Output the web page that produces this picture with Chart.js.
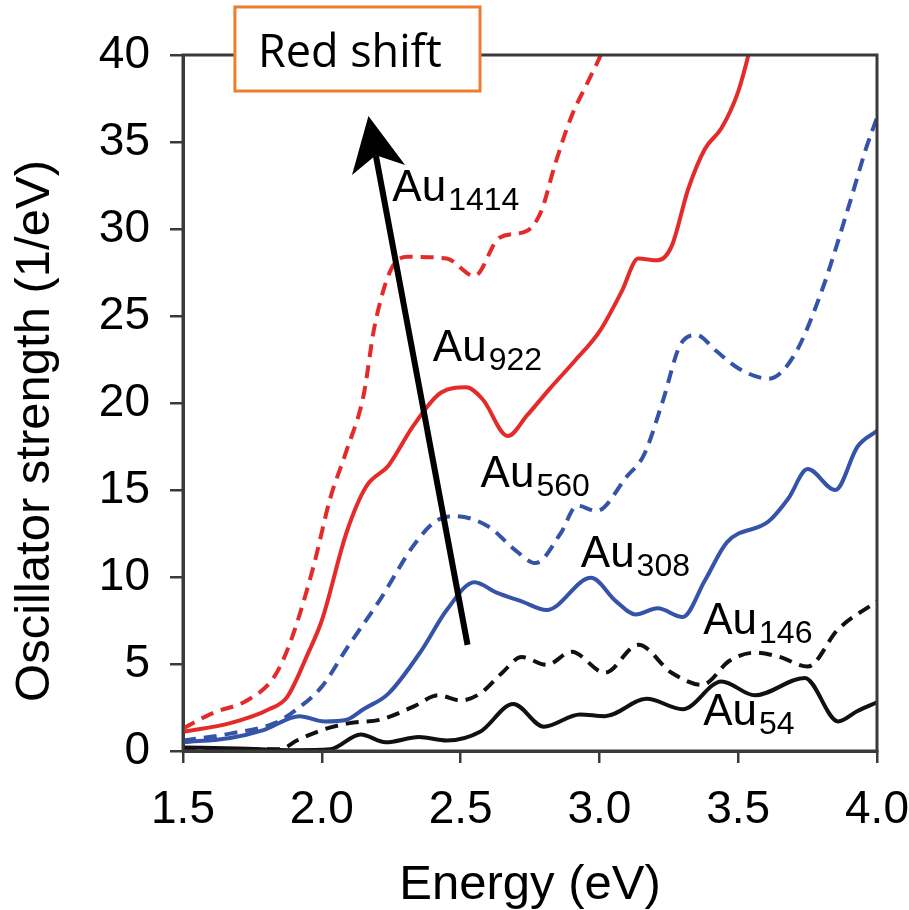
<!DOCTYPE html>
<html>
<head>
<meta charset="utf-8">
<script src="https://cdn.jsdelivr.net/npm/chart.js@4.4.0/dist/chart.umd.min.js"></script>
<style>
  body { margin: 0; background: #fff; }
  canvas { display: block; }
</style>
</head>
<body>
<canvas id="chart" width="909" height="910"></canvas>
<script>
// x = energy (eV), y = oscillator strength (1/eV)
var au54E = [1.50, 1.70, 1.90, 2.03, 2.14, 2.23, 2.35, 2.45, 2.57, 2.69, 2.80, 2.93, 3.02, 3.17, 3.30, 3.44, 3.56, 3.74, 3.86, 3.93, 4.00];
var au54F = [0.2, 0.15, 0.05, 0.1, 0.95, 0.5, 0.8, 0.6, 1.1, 2.7, 1.4, 2.1, 2.0, 3.0, 2.4, 4.0, 3.2, 4.2, 1.7, 2.3, 2.8];

var au146E = [1.50, 1.70, 1.85, 1.91, 2.00, 2.10, 2.21, 2.33, 2.42, 2.50, 2.57, 2.65, 2.72, 2.81, 2.90, 3.02, 3.14, 3.26, 3.37, 3.47, 3.56, 3.65, 3.75, 3.86, 4.00];
var au146F = [0.1, 0.1, 0.1, 0.6, 1.2, 1.6, 1.8, 2.55, 3.2, 2.9, 3.3, 4.5, 5.4, 4.95, 5.7, 4.5, 6.1, 4.5, 3.8, 5.2, 5.65, 5.4, 4.85, 7.0, 8.6];

var au308E = [1.50, 1.67, 1.79, 1.92, 2.01, 2.09, 2.15, 2.24, 2.36, 2.45, 2.55, 2.63, 2.72, 2.81, 2.97, 3.06, 3.13, 3.21, 3.30, 3.38, 3.46, 3.61, 3.68, 3.75, 3.85, 3.93, 4.00];
var au308F = [0.5, 0.75, 1.2, 2.0, 1.7, 1.8, 2.4, 3.3, 5.8, 8.1, 9.7, 9.1, 8.6, 8.1, 9.95, 8.6, 7.85, 8.2, 7.7, 9.8, 12.0, 13.2, 14.5, 16.2, 15.0, 17.5, 18.4];

var au560E = [1.50, 1.67, 1.83, 1.91, 2.00, 2.09, 2.21, 2.33, 2.41, 2.48, 2.60, 2.70, 2.77, 2.86, 2.92, 2.99, 3.10, 3.16, 3.23, 3.29, 3.35, 3.42, 3.50, 3.61, 3.70, 3.80, 3.90, 3.96, 4.00];
var au560F = [0.6, 1.0, 1.6, 2.4, 3.7, 5.9, 8.7, 11.8, 13.2, 13.5, 12.9, 11.5, 10.8, 12.5, 14.1, 13.8, 15.8, 17.0, 20.2, 23.3, 23.9, 23.0, 22.0, 21.4, 22.7, 26.4, 31.4, 34.6, 36.4];

var au922E = [1.50, 1.67, 1.81, 1.875, 1.95, 2.00, 2.09, 2.16, 2.24, 2.33, 2.43, 2.52, 2.58, 2.67, 2.74, 2.82, 2.91, 3.00, 3.08, 3.14, 3.21, 3.26, 3.32, 3.38, 3.44, 3.50, 3.54, 3.58];
var au922F = [1.1, 1.6, 2.4, 3.1, 5.6, 7.5, 12.6, 15.2, 16.4, 18.7, 20.6, 20.9, 20.2, 18.1, 19.3, 20.8, 22.4, 24.1, 26.4, 28.3, 28.2, 29.0, 32.3, 34.6, 35.8, 37.9, 40.2, 43.0];

var au1414E = [1.50, 1.61, 1.73, 1.83, 1.89, 1.97, 2.03, 2.09, 2.15, 2.19, 2.25, 2.31, 2.45, 2.55, 2.64, 2.74, 2.79, 2.84, 2.90, 2.96, 3.01, 3.05];
var au1414F = [1.3, 2.2, 2.9, 4.3, 6.4, 10.6, 14.5, 17.3, 20.4, 24.4, 27.7, 28.4, 28.3, 27.3, 29.5, 29.9, 31.0, 33.7, 36.5, 38.5, 40.2, 42.0];

var xTicks = [1.5, 2.0, 2.5, 3.0, 3.5, 4.0];
var yTicks = [0, 5, 10, 15, 20, 25, 30, 35, 40];

// curve labels: [name, subscript, x, y of baseline]
var curveLabels = [
    ['Au', '1414', 2.254, 31.6],
    ['Au', '922', 2.40, 22.4],
    ['Au', '560', 2.572, 15.2],
    ['Au', '308', 2.933, 10.6],
    ['Au', '146', 3.374, 6.7],
    ['Au', '54', 3.374, 1.5]
];

var RED = '#e52a2a';
var BLUE = '#3553a8';
var BLACK = '#111111';
var FONT = '"Liberation Sans", Arial, sans-serif';

function pts(xs, ys) {
    var out = [];
    for (var i = 0; i < xs.length; i++) {
        out.push({x: xs[i], y: ys[i]});
    }
    return out;
}

function series(xs, ys, color, dashed) {
    return {
        data: pts(xs, ys),
        borderColor: color,
        borderWidth: 4,
        borderDash: dashed ? [13, 8] : [],
        pointRadius: 0,
        fill: false,
        cubicInterpolationMode: 'monotone'
    };
}

var framePlugin = {
    id: 'frame',
    afterDatasetsDraw: function(chart) {
        var c = chart.ctx, a = chart.chartArea;
        var xs = chart.scales.x, ys = chart.scales.y;
        c.save();
        c.strokeStyle = '#3a3a3a';
        c.lineWidth = 3;
        c.strokeRect(a.left, a.top, a.right - a.left, a.bottom - a.top);

        // y axis title, drawn by hand so it can sit a bit lower like the original
        c.save();
        c.translate(35, 431);
        c.rotate(-Math.PI / 2);
        c.fillStyle = '#000';
        c.font = '49px ' + FONT;
        c.textAlign = 'center';
        c.textBaseline = 'middle';
        c.fillText('Oscillator strength (1/eV)', 0, 0);
        c.restore();

        // curve labels with subscripts
        c.fillStyle = '#000';
        c.textBaseline = 'alphabetic';
        c.textAlign = 'left';
        curveLabels.forEach(function(l) {
            var px = xs.getPixelForValue(l[2]);
            var py = ys.getPixelForValue(l[3]);
            c.font = '44px ' + FONT;
            c.fillText(l[0], px, py);
            var w = c.measureText(l[0]).width;
            c.font = '32px ' + FONT;
            c.fillText(l[1], px + w + 2, py + 9);
        });

        // red shift arrow
        var x0 = xs.getPixelForValue(2.525), y0 = ys.getPixelForValue(6.1);
        var x1 = xs.getPixelForValue(2.168), y1 = ys.getPixelForValue(36.5);
        var dx = x1 - x0, dy = y1 - y0, len = Math.sqrt(dx * dx + dy * dy);
        var ux = dx / len, uy = dy / len, nx = -uy, ny = ux;
        c.strokeStyle = '#000';
        c.lineWidth = 6;
        c.beginPath();
        c.moveTo(x0, y0);
        c.lineTo(x1 - 40 * ux, y1 - 40 * uy);
        c.stroke();
        c.fillStyle = '#000';
        c.beginPath();
        c.moveTo(x1, y1);
        c.lineTo(x1 - 55 * ux + 27 * nx, y1 - 55 * uy + 27 * ny);
        c.lineTo(x1 - 40 * ux, y1 - 40 * uy);
        c.lineTo(x1 - 55 * ux - 27 * nx, y1 - 55 * uy - 27 * ny);
        c.closePath();
        c.fill();

        // "Red shift" box
        var bl = xs.getPixelForValue(1.687), br = xs.getPixelForValue(2.570);
        var bt = ys.getPixelForValue(42.76), bb = ys.getPixelForValue(37.93);
        c.fillStyle = '#fff';
        c.fillRect(bl, bt, br - bl, bb - bt);
        c.strokeStyle = '#ed7d31';
        c.lineWidth = 3;
        c.strokeRect(bl, bt, br - bl, bb - bt);
        c.fillStyle = '#000';
        c.font = '45px "Open Sans", Lato, sans-serif';
        c.fillText('Red shift', bl + 23, bt + 60);
        c.restore();
    }
};

var ctx = document.getElementById('chart');
var chart = new Chart(ctx, {
    type: 'line',
    data: {
        datasets: [
            series(au54E, au54F, BLACK, false),
            series(au146E, au146F, BLACK, true),
            series(au308E, au308F, BLUE, false),
            series(au560E, au560F, BLUE, true),
            series(au922E, au922F, RED, false),
            series(au1414E, au1414F, RED, true)
        ]
    },
    options: {
        responsive: false,
        animation: false,
        layout: { padding: { top: 55, right: 32, left: 0, bottom: 0 } },
        plugins: { legend: { display: false }, tooltip: { enabled: false } },
        scales: {
            x: {
                type: 'linear',
                min: 1.5,
                max: 4.0,
                afterBuildTicks: function(s) { s.ticks = xTicks.map(function(v) { return {value: v}; }); },
                afterFit: function(s) { s.height = 159; s.paddingLeft = 0; s.paddingRight = 0; },
                ticks: {
                    callback: function(v) { return v.toFixed(1); },
                    font: { family: FONT, size: 46 },
                    color: '#000',
                    padding: 20,
                    maxRotation: 0,
                    autoSkip: false
                },
                grid: { drawOnChartArea: false, tickLength: 12, color: '#3a3a3a', lineWidth: 2.5 },
                border: { color: '#3a3a3a', width: 3 },
                title: {
                    display: true,
                    text: 'Energy (eV)',
                    font: { family: FONT, size: 49, lineHeight: 1.0 },
                    color: '#000',
                    padding: { top: 0, bottom: 0 }
                }
            },
            y: {
                min: 0,
                max: 40,
                afterBuildTicks: function(s) { s.ticks = yTicks.map(function(v) { return {value: v}; }); },
                afterFit: function(s) { s.width = 183; s.paddingTop = 0; s.paddingBottom = 0; },
                ticks: {
                    font: { family: FONT, size: 46 },
                    color: '#000',
                    padding: 20,
                    autoSkip: false
                },
                grid: { drawOnChartArea: false, tickLength: 13, color: '#3a3a3a', lineWidth: 2.5 },
                border: { color: '#3a3a3a', width: 3 }
            }
        }
    },
    plugins: [framePlugin]
});
</script>
</body>
</html>
